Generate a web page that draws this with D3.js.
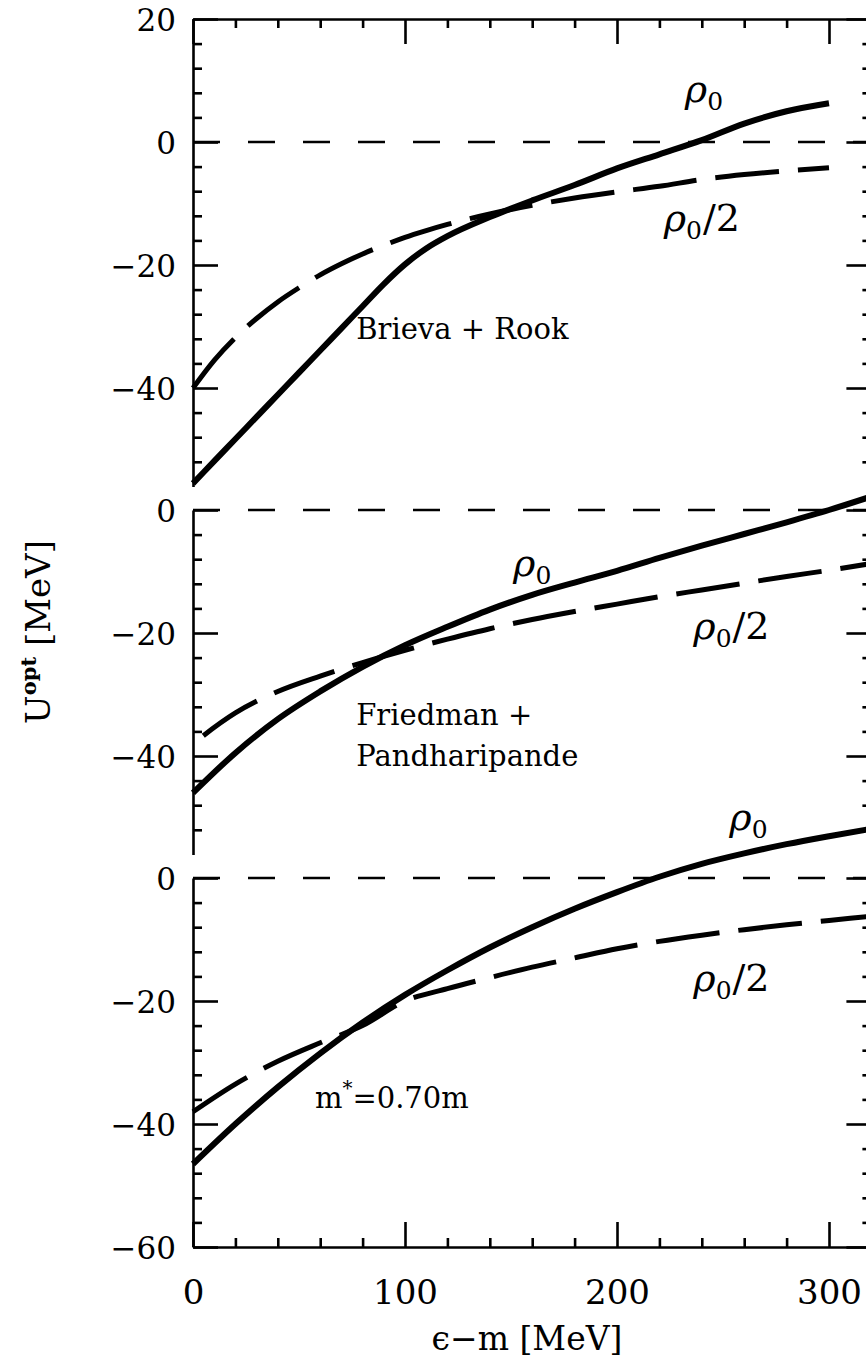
<!DOCTYPE html>
<html>
<head>
<meta charset="utf-8">
<script src="https://cdn.jsdelivr.net/npm/d3@7"></script>
<style>
  html, body { margin: 0; padding: 0; background: #fff; }
  svg { display: block; }
  text { font-family: "DejaVu Serif", serif; fill: #000; }
</style>
</head>
<body>
<svg id="chart" width="866" height="1370"></svg>
<script>
// ---- Optical potential U_opt(ε−m) in nuclear matter, at ρ0 and ρ0/2 ----

// Brieva + Rook
const energyBR = [0, 10, 20, 30, 40, 50, 60, 70, 80, 90, 100, 110, 120, 140, 160, 180, 200, 220, 240, 260, 280, 300];
const brRho0   = [-55.5, -51.9, -48.3, -44.7, -41.1, -37.5, -33.9, -30.3, -26.7, -23.1, -19.9, -17.3, -15.3, -12.2, -9.5, -7, -4.3, -2, 0.3, 3, 5, 6.3];
const brHalf   = [-40, -35.5, -31.8, -28.7, -26, -23.7, -21.6, -19.8, -18.2, -16.8, -15.5, -14.4, -13.4, -11.7, -10.3, -9.1, -8.1, -7.2, -6.1, -5.3, -4.7, -4.2];

// Friedman + Pandharipande
const energyFP = [0, 20, 40, 60, 80, 100, 120, 140, 160, 180, 200, 220, 240, 260, 280, 300, 320];
const fpRho0   = [-46, -39.5, -34, -29.5, -25.5, -22, -19, -16.2, -13.8, -11.8, -9.9, -7.8, -5.8, -3.9, -2, 0, 2.2];
const fpHalf   = [-38, -33, -29.5, -27, -24.8, -22.8, -21, -19.3, -17.8, -16.5, -15.3, -14.1, -13, -11.9, -10.8, -9.8, -8.7];

// m* = 0.70 m
const energyMS = [0, 20, 40, 60, 80, 100, 120, 140, 160, 180, 200, 220, 240, 260, 280, 300, 320];
const msRho0   = [-46.5, -40, -34, -28.5, -23.5, -19, -15, -11.3, -8, -5, -2.3, 0.2, 2.3, 4, 5.5, 6.8, 8];
const msHalf   = [-38, -33.5, -29.8, -26.8, -24, -20, -18, -16.2, -14.5, -13, -11.5, -10.3, -9.3, -8.4, -7.6, -6.9, -6.2];

// Axis ticks
const xMajorTicks = [0, 100, 200, 300];
const xMinorTicks = [20, 40, 60, 80, 120, 140, 160, 180, 220, 240, 260, 280, 320];
const yMajorTicks = [[20, 0, -20, -40], [0, -20, -40], [0, -20, -40, -60]];
const yMinorStep = 4;

const modelLabels = [["Brieva + Rook"], ["Friedman +", "Pandharipande"], ["m*=0.70m"]];

// ---- layout ----
const svg = d3.select("#chart");
const x = d3.scaleLinear().domain([0, 320]).range([193, 871.4]);
const pxPerUnit = 6.15;
const frame = [
  { top: 19,  domain: [-56, 20], halfOffset: 0 },
  { top: 510, domain: [-56, 0],  halfOffset: 70 },
  { top: 878, domain: [-60, 0],  halfOffset: 0 }
];
const series = [
  { e: energyBR, rho0: brRho0, half: brHalf },
  { e: energyFP, rho0: fpRho0, half: fpHalf },
  { e: energyMS, rho0: msRho0, half: msHalf }
];
// label anchors in data units [energy, U]
const labelAt = [
  { rho0: [232, 6.5],   half: [222, -14.5], model: [77, -32],   lineGap: 41 },
  { rho0: [151, -10.8], half: [236, -21],   model: [77, -35],   lineGap: 41 },
  { rho0: [253, 7.8],   half: [236, -18.4], model: [57.5, -37.4], lineGap: 41 }
];

const fmt = d => d < 0 ? "\u2212" + Math.abs(d) : String(d);

function styleAxis(g, w) {
  g.selectAll("path.domain").attr("stroke", "#000").attr("stroke-width", w);
  g.selectAll(".tick line").attr("stroke", "#000").attr("stroke-width", w);
}

frame.forEach((f, i) => {
  const [lo, hi] = f.domain;
  const y = d3.scaleLinear().domain(f.domain).range([f.top + (hi - lo) * pxPerUnit, f.top]);
  const g = svg.append("g");
  const minors = d3.range(hi, lo - 0.001, -yMinorStep).filter(v => !yMajorTicks[i].includes(v) && v !== lo && v !== hi);

  // left axis
  const left = g.append("g").attr("transform", `translate(${x(0)},0)`)
    .call(d3.axisLeft(y).tickValues(yMajorTicks[i]).tickSize(-25).tickSizeOuter(0).tickPadding(17).tickFormat(fmt));
  left.selectAll("text").attr("font-size", 31).attr("dy", "0.36em");
  styleAxis(left, 2.6);
  const leftMinor = g.append("g").attr("transform", `translate(${x(0)},0)`)
    .call(d3.axisLeft(y).tickValues(minors).tickSize(-9).tickFormat(""));
  leftMinor.select("path.domain").remove();
  styleAxis(leftMinor, 2.6);

  // right axis
  const right = g.append("g").attr("transform", `translate(${x(320)},0)`)
    .call(d3.axisRight(y).tickValues(yMajorTicks[i]).tickSize(-25).tickSizeOuter(0).tickFormat(""));
  styleAxis(right, 2.6);
  const rightMinor = g.append("g").attr("transform", `translate(${x(320)},0)`)
    .call(d3.axisRight(y).tickValues(minors).tickSize(-9).tickFormat(""));
  rightMinor.select("path.domain").remove();
  styleAxis(rightMinor, 2.6);

  if (i === 0) {
    const top = g.append("g").attr("transform", `translate(0,${y(hi)})`)
      .call(d3.axisTop(x).tickValues(xMajorTicks).tickSize(-25).tickSizeOuter(0).tickFormat(""));
    styleAxis(top, 2.6);
    const topMinor = g.append("g").attr("transform", `translate(0,${y(hi)})`)
      .call(d3.axisTop(x).tickValues(xMinorTicks).tickSize(-9).tickFormat(""));
    topMinor.select("path.domain").remove();
    styleAxis(topMinor, 2.6);
  }
  if (i === 2) {
    const bot = g.append("g").attr("transform", `translate(0,${y(lo)})`)
      .call(d3.axisBottom(x).tickValues(xMajorTicks).tickSize(-25).tickSizeOuter(0).tickPadding(33));
    bot.selectAll("text").attr("font-size", 34);
    styleAxis(bot, 2.6);
    const botMinor = g.append("g").attr("transform", `translate(0,${y(lo)})`)
      .call(d3.axisBottom(x).tickValues(xMinorTicks).tickSize(-9).tickFormat(""));
    botMinor.select("path.domain").remove();
    styleAxis(botMinor, 2.6);
  }

  // zero reference
  g.append("path")
    .attr("d", d3.line().x(d => x(d)).y(() => y(0))(x.domain()))
    .attr("fill", "none").attr("stroke", "#000").attr("stroke-width", 2.6)
    .attr("stroke-dasharray", "27 28");

  const s = series[i];
  const line = d3.line().x((d, k) => x(s.e[k])).y(d => y(d)).curve(d3.curveMonotoneX);
  g.append("path").attr("d", line(s.half))
    .attr("fill", "none").attr("stroke", "#000").attr("stroke-width", 5)
    .attr("stroke-dasharray", "64 19").attr("stroke-dashoffset", f.halfOffset);
  g.append("path").attr("d", line(s.rho0))
    .attr("fill", "none").attr("stroke", "#000").attr("stroke-width", 6)
    .attr("stroke-linejoin", "round");

  // curve labels
  const L = labelAt[i];
  const r0 = g.append("text").attr("x", x(L.rho0[0])).attr("y", y(L.rho0[1])).attr("font-size", 38);
  r0.append("tspan").attr("font-style", "italic").text("\u03C1");
  r0.append("tspan").attr("font-size", 25).attr("dy", 8).text("0");

  const rh = g.append("text").attr("x", x(L.half[0])).attr("y", y(L.half[1])).attr("font-size", 38);
  rh.append("tspan").attr("font-style", "italic").text("\u03C1");
  rh.append("tspan").attr("font-size", 25).attr("dy", 8).text("0");
  rh.append("tspan").attr("dy", -8).attr("dx", 1).text("/2");

  // model name
  const mt = g.append("text").attr("x", x(L.model[0])).attr("y", y(L.model[1])).attr("font-size", 29);
  if (i === 2) {
    mt.append("tspan").text("m");
    mt.append("tspan").attr("font-size", 20).attr("dy", -13).text("*");
    mt.append("tspan").attr("dy", 13).text("=0.70m");
  } else {
    modelLabels[i].forEach((t, k) => {
      mt.append("tspan").attr("x", x(L.model[0])).attr("dy", k === 0 ? 0 : L.lineGap).text(t);
    });
  }
});

// axis titles
svg.append("text").attr("x", 527).attr("y", 1350)
  .attr("text-anchor", "middle").attr("font-size", 33)
  .text("\u03F5\u2212m  [MeV]");

const yt = svg.append("text").attr("transform", "translate(50,632) rotate(-90)")
  .attr("text-anchor", "middle").attr("font-size", 34);
yt.append("tspan").text("U");
yt.append("tspan").attr("font-size", 21).attr("font-weight", "bold").attr("dy", -14).text("opt");
yt.append("tspan").attr("dy", 14).text(" [MeV]");
</script>
</body>
</html>
